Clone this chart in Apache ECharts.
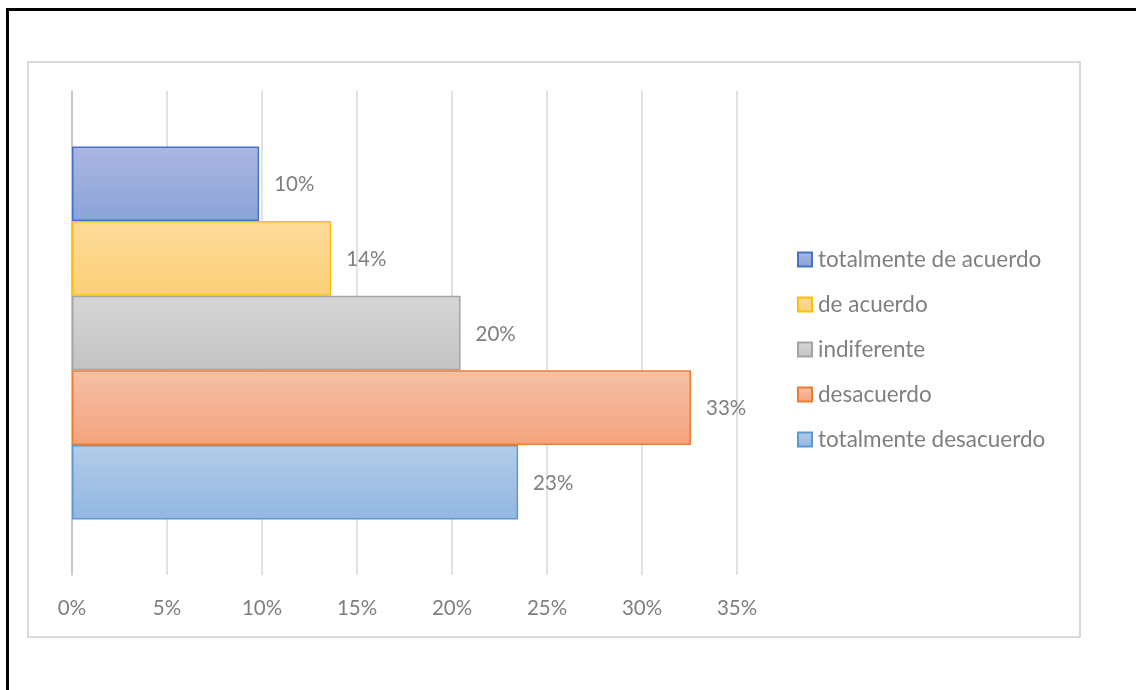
<!DOCTYPE html>
<html>
<head>
<meta charset="utf-8">
<script src="https://cdn.jsdelivr.net/npm/echarts@6/dist/echarts.min.js"></script>
<style>
html,body{margin:0;padding:0;background:#fff;}
#c{width:1136px;height:690px;}
</style>
</head>
<body>
<div id="c"></div>
<script>
var categories = [''];
var seriesNames = ['totalmente de acuerdo', 'de acuerdo', 'indiferente', 'desacuerdo', 'totalmente desacuerdo'];
var seriesValues = [0.0985, 0.1364, 0.2045, 0.3258, 0.2348];
var tickLabels = ['0%', '5%', '10%', '15%', '20%', '25%', '30%', '35%'];

var borderColors = ['#4472c4', '#ffc000', '#a5a5a5', '#ed7d31', '#5b9bd5'];
var topColors = ['#abb6e1', '#fedb9b', '#d6d6d6', '#f6c0a6', '#b3cce9'];
var bottomColors = ['#8aa2d8', '#fdd077', '#c3c3c3', '#f4a47e', '#92b7e2'];

var font = 'Lato, "Open Sans", sans-serif';
var chart = echarts.init(document.getElementById('c'), null, {renderer: 'canvas'});

var series = seriesNames.map(function (name, i) {
  return {
    name: name,
    type: 'bar',
    data: [seriesValues[i]],
    barWidth: 74.6,
    barGap: '0%',
    itemStyle: {
      color: new echarts.graphic.LinearGradient(0, 0, 0, 1, [
        {offset: 0, color: topColors[i]},
        {offset: 1, color: bottomColors[i]}
      ]),
      borderColor: borderColors[i],
      borderWidth: 1.5
    },
    label: {
      show: true,
      position: 'right',
      distance: 15,
      offset: [0, 1],
      fontFamily: font,
      fontSize: 20.5,
      color: '#7f7f7f',
      formatter: function (p) { return Math.round(p.value * 100) + '%'; }
    },
    emphasis: {disabled: true},
    animation: false
  };
});

chart.setOption({
  animation: false,
  graphic: [
    {type: 'rect', shape: {x: 28, y: 62, width: 1052, height: 575}, style: {fill: 'none', stroke: '#d9d9d9', lineWidth: 2}, silent: true},
    {type: 'rect', shape: {x: 6, y: 8, width: 1130, height: 3}, style: {fill: '#000'}, silent: true},
    {type: 'rect', shape: {x: 6, y: 8, width: 3, height: 682}, style: {fill: '#000'}, silent: true}
  ],
  grid: {left: 72, right: 399, top: 91, bottom: 115, containLabel: false},
  legend: {
    orient: 'vertical',
    left: 792,
    top: 243,
    itemWidth: 14,
    itemHeight: 14,
    itemGap: 22,
    icon: 'rect',
    selectedMode: false,
    textStyle: {fontFamily: font, fontSize: 22.5, color: '#7f7f7f', lineHeight: 20, padding: [0, 0, 0, 1]},
    data: seriesNames
  },
  xAxis: {
    type: 'value',
    min: 0,
    max: 0.35,
    interval: 0.05,
    axisLine: {show: false},
    axisTick: {show: false},
    splitLine: {lineStyle: {color: '#d9d9d9', width: 1.5}},
    axisLabel: {
      margin: 23,
      fontFamily: font,
      fontSize: 20.5,
      color: '#7f7f7f',
      formatter: function (v) { return tickLabels[Math.round(v / 0.05)]; }
    }
  },
  yAxis: {
    type: 'category',
    data: categories,
    inverse: true,
    axisLine: {show: true, lineStyle: {color: '#bfbfbf', width: 1.5}},
    axisTick: {show: false},
    axisLabel: {show: false}
  },
  series: series
});
</script>
</body>
</html>
